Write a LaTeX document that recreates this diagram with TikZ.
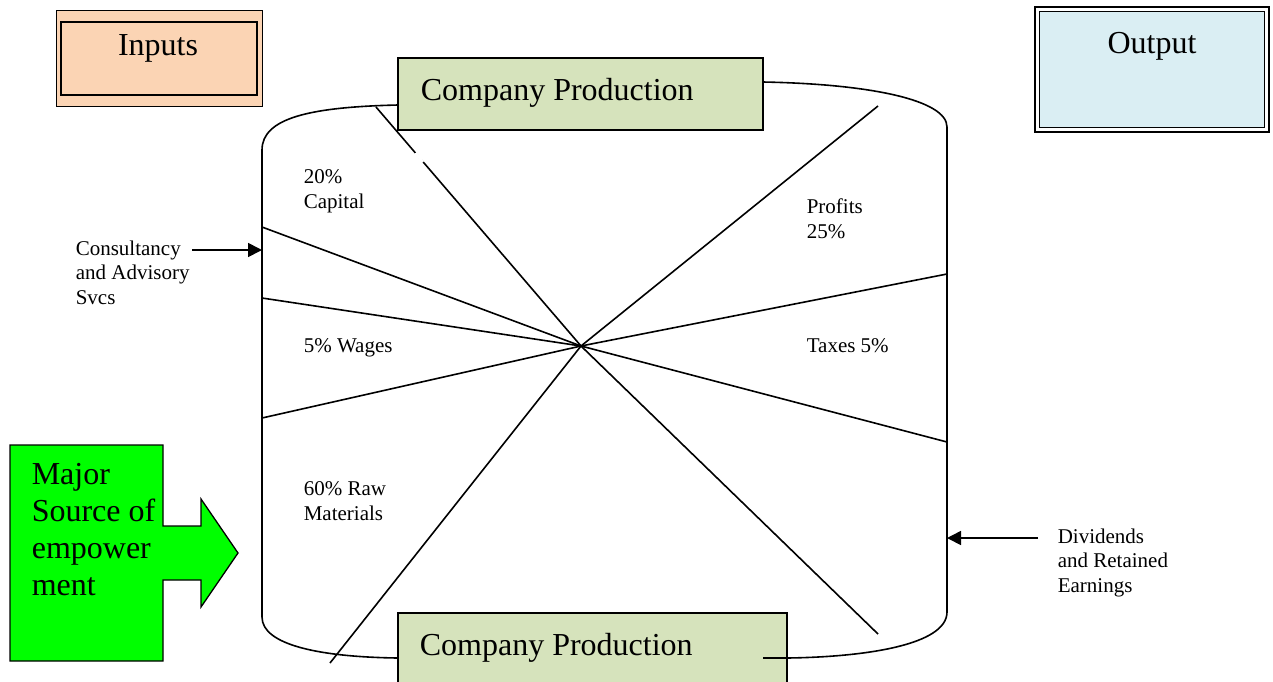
\documentclass[tikz,border=0pt]{standalone}
\usepackage{fontspec}
\setmainfont{Liberation Serif}
\usepackage{tikz}
\usetikzlibrary{arrows.meta}

\definecolor{peach}{HTML}{FBD4B4}
\definecolor{sage}{HTML}{D6E3BC}
\definecolor{paleblue}{HTML}{DAEEF3}
\definecolor{brightgreen}{HTML}{00FF00}

\begin{document}
\begin{tikzpicture}[x=1pt, y=-1pt, line width=1.6pt,
    bigtext/.style = {font=\fontsize{32}{36.7}\selectfont, inner sep=0pt},
    smalltext/.style = {font=\fontsize{21}{24.5}\selectfont, inner sep=0pt, align=left, anchor=base west},
    flowarrow/.style = {-{Triangle[length=14pt,width=14pt]}, line width=1.7pt}]
    \useasboundingbox (0,0) rectangle (1273,681);

    % Cylinder sides
    \draw (262,150) -- (262,617);
    \draw (947,127) -- (947,612);
    % Top rim
    \draw (262,150) .. controls (262,118) and (310,107) .. (398,105);
    \draw (763,82) .. controls (870,84) and (947,100) .. (947,127);
    % Bottom rim
    \draw (262,617) .. controls (262,645) and (320,657) .. (398,658);
    \draw (787,658) .. controls (865,657) and (947,645) .. (947,612);

    % Dividing lines through the hub
    \coordinate (hub) at (581,346);
    \draw (hub) -- (376,107);   % capital / consultancy
    \draw (hub) -- (262,227);
    \draw (hub) -- (262,298);   % wages
    \draw (hub) -- (262,418);
    \draw (hub) -- (330,663);   % raw materials
    \draw (hub) -- (878,106);   % profits
    \draw (hub) -- (947,274);
    \draw (hub) -- (947,442);   % taxes
    \draw (hub) -- (878,634);
    \draw[white, line width=3pt] (415.5,153) -- (423,162);

    % Inputs box
    \filldraw[fill=peach, line width=1pt] (56,10) rectangle (262,106);
    \draw[line width=2pt] (61,22) rectangle (257,95);
    \node[bigtext, anchor=base] (inputs) at (158,55) {Inputs};

    % Output box
    \filldraw[fill=white, line width=2.7pt] (1035,7) rectangle (1269,132);
    \filldraw[fill=paleblue, line width=1.7pt] (1039.5,11.5) rectangle (1264.5,127.5);
    \node[bigtext, anchor=base] (output) at (1152,53) {Output};

    % Production boxes
    \filldraw[fill=sage, line width=1.4pt] (398,58) rectangle (763,130);
    \node[bigtext, anchor=base west] (prodTop) at (420,100) {Company Production};
    \filldraw[fill=sage, line width=1.4pt] (398,613) rectangle (787,690);
    \node[bigtext, anchor=base west] (prodBottom) at (419,655) {Company Production};
    \draw (763,658) -- (787,658);

    % Shares (placed by the baseline of the last line)
    \node[smalltext] (capital) at (303,208) {20\%\\Capital};
    \node[smalltext] (wages) at (303,352) {5\% Wages};
    \node[smalltext] (raw) at (303,520) {60\% Raw\\Materials};
    \node[smalltext] (profits) at (806,238) {Profits\\25\%};
    \node[smalltext] (taxes) at (806,352) {Taxes 5\%};

    % Side flows
    \node[smalltext] (consult) at (75,304) {Consultancy\\and Advisory\\Svcs};
    \coordinate (consultTail) at (192,250);
    \coordinate (consultHead) at (262,250);
    \draw[flowarrow] (consultTail) -- (consultHead);

    \node[smalltext] (dividends) at (1057,592) {Dividends\\and Retained\\Earnings};
    \coordinate (dividendTail) at (1038,538);
    \coordinate (dividendHead) at (947,538);
    \draw[flowarrow] (dividendTail) -- (dividendHead);

    % Empowerment callout
    \filldraw[fill=brightgreen, line width=1.3pt, line join=miter]
        (10,445) -- (163,445) -- (163,526) -- (201,526) -- (201,499) -- (238,553)
        -- (201,607) -- (201,580) -- (163,580) -- (163,661) -- (10,661) -- cycle;
    \node[bigtext, align=left, anchor=base west] (empower) at (31,595)
        {Major\\Source of\\empower\\ment};
\end{tikzpicture}
\end{document}
